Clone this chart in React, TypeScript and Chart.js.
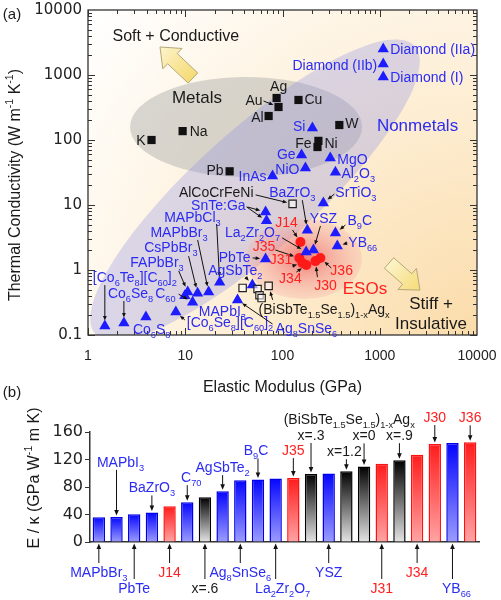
import React, { useEffect, useRef } from 'react';
import { Chart, registerables } from 'chart.js';

Chart.register(...registerables);

const SANS = '"Liberation Sans", Arial, Helvetica, sans-serif';
const WIDE = '"DejaVu Sans", sans-serif';

// ---------------- panel (a): E (GPa) vs thermal conductivity (W m-1 K-1) ----------------
const metalNames = ['K', 'Na', 'Pb', 'Al', 'Au', 'Ag', 'Cu', 'W', 'Fe', 'Ni'];
const metalModulus = [4.5, 9.4, 28.6, 72, 91, 87, 146, 384, 229, 234];
const metalConductivity = [100, 137, 33, 234, 322, 443, 413, 170, 78, 97];

const alloyNames = ['AlCoCrFeNi', 'x=.6', 'x=.3', 'x=1.2', 'x=0', 'x=.9'];
const alloyModulus = [127, 38.9, 55.4, 58, 61, 72];
const alloyConductivity = [10.4, 0.53, 0.51, 0.41, 0.37, 0.57];

const nonmetalNames = [
  '[Co_6Te_8][C_{60}]_2', 'Co_6Se_8', 'Co_6S_8', '[Co_6Se_8][C_{60}]_2', 'C_{60}', 'FAPbBr_3',
  'MAPbI_3', 'CsPbBr_3', 'MAPbBr_3', 'MAPbCl_3', 'Ag_8SnSe_6', 'AgSbTe_2', 'PbTe', 'SnTe:Ga',
  'SnTe:Ga', 'InAs', 'NiO', 'Ge', 'Si', 'MgO', 'Al_2O_3', 'SrTiO_3', 'BaZrO_3', 'La_2Zr_2O_7', 'YSZ',
  'B_9C', 'YB_{66}', 'Diamond (IIa)', 'Diamond (IIb)', 'Diamond (I)',
];
const nonmetalModulus = [
  1.49, 2.34, 3.94, 8.0, 11.9, 10.6, 9.9, 13.4, 17.4, 22.6, 34.5, 49, 67, 67, 68.5, 79, 172,
  157, 203, 310, 350, 263, 180, 175, 208, 350, 366, 1086, 1086, 1086,
];
const nonmetalConductivity = [
  0.137, 0.153, 0.189, 0.226, 0.32, 0.46, 0.4, 0.44, 0.46, 0.65, 0.345, 0.59, 1.48, 7.8, 5.7,
  28, 37, 59, 153, 53, 32, 10.7, 4.1, 1.9, 2.03, 3.7, 2.34, 2510, 1478, 930,
];

const esoNames = ['J14', 'J35', 'J31', 'J34', 'J30', 'J36'];
const esoModulus = [153, 149, 160, 176, 218, 245];
const esoConductivity = [2.7, 1.53, 1.28, 1.19, 1.37, 1.53];

const xTickValues = [1, 10, 100, 1000, 10000];
const yTickValues = [0.1, 1, 10, 100, 1000, 10000];

// ---------------- panel (b): E / kappa ----------------
const barNames = [
  'MAPbBr_3', 'MAPbI_3', 'PbTe', 'BaZrO_3', 'J14', 'C_{70}', 'x=.6', 'AgSbTe_2', 'Ag_8SnSe_6',
  'B_9C', 'La_2Zr_2O_7', 'J35', 'x=.3', 'YSZ', 'x=1.2', 'x=0', 'J31', 'x=.9', 'J34', 'J30',
  'YB_{66}', 'J36',
];
const barValues = [
  36, 36.5, 40.5, 43, 52, 58, 65, 74, 90, 91, 92.5, 93, 99, 99.5, 103, 110, 114, 119, 127,
  142.5, 144, 145,
];
const barGroups = [
  'n', 'n', 'n', 'n', 'e', 'n', 'a', 'n', 'n', 'n', 'n', 'e', 'a', 'n', 'a', 'a', 'e', 'a', 'e',
  'e', 'n', 'e',
];

// ---------------- styling / annotation layout ----------------
const BLUE_TXT = '#2b2bf2';
const RED_TXT = '#ff2020';
const BLACK_TXT = '#1a1a1a';
const ALLOY_TITLE = '(BiSbTe_{1.5}Se_{1.5})_{1-x}Ag_x';

const setColor: Record<string, string> = { m: BLACK_TXT, a: BLACK_TXT, n: BLUE_TXT, e: RED_TXT };
const setIndex: Record<string, number> = { m: 0, a: 1, n: 2, e: 3 };
const setNames: Record<string, string[]> = { m: metalNames, a: alloyNames, n: nonmetalNames, e: esoNames };

const labelsA: any[] = [
  { s: 'm', i: 0, dx: -6, dy: 0, al: 'r' },
  { s: 'm', i: 1, dx: 7, dy: 0, al: 'l' },
  { s: 'm', i: 2, dx: -6, dy: -1, al: 'r' },
  { s: 'm', i: 3, dx: -5, dy: 1, al: 'r' },
  { s: 'm', i: 4, dx: -16, dy: -7, al: 'r', ax: -15, ay: -6 },
  { s: 'm', i: 5, dx: 2, dy: -12, al: 'c' },
  { s: 'm', i: 6, dx: 6, dy: -1, al: 'l' },
  { s: 'm', i: 7, dx: 6, dy: -2, al: 'l' },
  { s: 'm', i: 8, dx: -6, dy: -4, al: 'r' },
  { s: 'm', i: 9, dx: 6, dy: 2, al: 'l' },
  { s: 'a', i: 0, dx: -39, dy: -12, al: 'r', ax: -37, ay: -9 },
  { s: 'a', i: 4, dx: -3, dy: 11, al: 'l', t: ALLOY_TITLE },
  { s: 'a', i: 5, dx: 0, dy: 0, al: 'l', ax: 4, ay: 14, hide: true },
  { s: 'n', i: 0, dx: -12, dy: -49, al: 'l', ax: 0, ay: -41 },
  { s: 'n', i: 1, dx: -16, dy: -30, al: 'l', ax: 0, ay: -22 },
  { s: 'n', i: 2, dx: -13, dy: 12, al: 'l' },
  { s: 'n', i: 3, dx: 11, dy: 10, al: 'l', ax: 9, ay: 8 },
  { s: 'n', i: 4, dx: -17, dy: -9, al: 'r', ax: -14, ay: -8 },
  { s: 'n', i: 5, dx: -4, dy: -30, al: 'r', ax: -9, ay: -21 },
  { s: 'n', i: 6, dx: 14, dy: 15, al: 'l' },
  { s: 'n', i: 7, dx: 0, dy: -46, al: 'r', ax: -9, ay: -37 },
  { s: 'n', i: 8, dx: -1, dy: -60, al: 'r', ax: -11, ay: -52 },
  { s: 'n', i: 9, dx: 1, dy: -65, al: 'r', ax: -3, ay: -58 },
  { s: 'n', i: 10, dx: 38, dy: 28, al: 'l', ax: 35, ay: 24 },
  { s: 'n', i: 11, dx: 10, dy: -15, al: 'r', ax: -7, ay: -8 },
  { s: 'n', i: 12, dx: -15, dy: -2, al: 'r', ax: -13, ay: -1 },
  { s: 'n', i: 13, dx: -20, dy: -7, al: 'r', ax: -18, ay: -5 },
  { s: 'n', i: 14, dx: 0, dy: 0, al: 'r', ax: -20, ay: -14, hide: true },
  { s: 'n', i: 15, dx: -6, dy: 0, al: 'r' },
  { s: 'n', i: 16, dx: -6, dy: 1, al: 'r' },
  { s: 'n', i: 17, dx: -6, dy: -1, al: 'r' },
  { s: 'n', i: 18, dx: -7, dy: -2, al: 'r' },
  { s: 'n', i: 19, dx: 7, dy: 1, al: 'l' },
  { s: 'n', i: 20, dx: 6, dy: 1, al: 'l' },
  { s: 'n', i: 21, dx: 12, dy: -11, al: 'l', ax: 11, ay: -9 },
  { s: 'n', i: 22, dx: -15, dy: -38, al: 'c', ax: -5, ay: -30 },
  { s: 'n', i: 23, dx: -26, dy: -20, al: 'r', ax: -24, ay: -14 },
  { s: 'n', i: 24, dx: 10, dy: -32, al: 'c', ax: 7, ay: -24 },
  { s: 'n', i: 25, dx: 12, dy: -13, al: 'l', ax: 10, ay: -8 },
  { s: 'n', i: 26, dx: 11, dy: -4, al: 'l', ax: 10, ay: -3 },
  { s: 'n', i: 27, dx: 7, dy: 0, al: 'l' },
  { s: 'n', i: 28, dx: -6, dy: 1, al: 'r' },
  { s: 'n', i: 29, dx: 7, dy: 0, al: 'l' },
  { s: 'e', i: 0, dx: -14, dy: -20, al: 'c', ax: -8, ay: -12 },
  { s: 'e', i: 1, dx: -24, dy: -12, al: 'r', ax: -24, ay: -8 },
  { s: 'e', i: 2, dx: -10, dy: -4, al: 'r', ax: -10, ay: 3 },
  { s: 'e', i: 3, dx: -16, dy: 13, al: 'c', ax: -10, ay: 7 },
  { s: 'e', i: 4, dx: 10, dy: 24, al: 'c', ax: 2, ay: 16 },
  { s: 'e', i: 5, dx: 10, dy: 12, al: 'l', ax: 11, ay: 10 },
];

// region annotations in data coordinates (modulus, conductivity)
const regionTexts = [
  { t: 'Soft + Conductive', E: 8.0, k: 4125, c: BLACK_TXT, size: 16 },
  { t: 'Metals', E: 13.2, k: 458, c: BLACK_TXT, size: 17 },
  { t: 'Nonmetals', E: 2445, k: 170, c: BLUE_TXT, size: 17 },
  { t: 'ESOs', E: 705, k: 0.53, c: RED_TXT, size: 17 },
  { t: 'Stiff +', E: 3365, k: 0.31, c: BLACK_TXT, size: 17 },
  { t: 'Insulative', E: 3365, k: 0.153, c: BLACK_TXT, size: 17 },
];

const barLabelLayout = [
  { p: 'b', r: 0 }, { p: 't', g: 55, dx: 4 }, { p: 'b', r: 1 }, { p: 't', g: 25 },
  { p: 'b', r: 0 }, { p: 't', g: 25, dx: 4 }, { p: 'b', r: 1 }, { p: 't', g: 24 },
  { p: 'b', r: 0 }, { p: 't', g: 29, dx: -2 }, { p: 'b', r: 1, dx: 7 }, { p: 't', g: 28 },
  { p: 't', g: 39 }, { p: 'b', r: 0 }, { p: 't', g: 20, dx: -2 }, { p: 't', g: 31 },
  { p: 'b', r: 1 }, { p: 't', g: 25 }, { p: 'b', r: 0 }, { p: 't', g: 27 },
  { p: 'b', r: 1, dx: 4 }, { p: 't', g: 25 },
];

const palette: Record<string, { top: string; bottom: string; edge: string; text: string }> = {
  n: { top: '#0505ff', bottom: '#9c9cff', edge: '#0000e8', text: BLUE_TXT },
  e: { top: '#ff1c1c', bottom: '#ffa4a4', edge: '#ff1010', text: RED_TXT },
  a: { top: '#000000', bottom: '#e4e4e4', edge: '#000000', text: BLACK_TXT },
};

// ---------------- drawing helpers ----------------
function parseRich(s: string) {
  const segs: { t: string; m: number }[] = [];
  let buf = '';
  let i = 0;
  while (i < s.length) {
    const c = s[i];
    if ((c === '_' || c === '^') && i + 1 < s.length) {
      if (buf) { segs.push({ t: buf, m: 0 }); buf = ''; }
      let t = '';
      if (s[i + 1] === '{') {
        const j = s.indexOf('}', i + 2);
        t = s.slice(i + 2, j);
        i = j + 1;
      } else {
        t = s[i + 1];
        i += 2;
      }
      segs.push({ t, m: c === '_' ? 1 : 2 });
    } else {
      buf += c;
      i++;
    }
  }
  if (buf) segs.push({ t: buf, m: 0 });
  return segs;
}

function drawRich(ctx: CanvasRenderingContext2D, s: string, x: number, y: number, size: number, color: string, align: string, family = SANS) {
  const segs = parseRich(s);
  const small = size * 0.66;
  let w = 0;
  for (const sg of segs) {
    ctx.font = `${sg.m ? small : size}px ${family}`;
    w += ctx.measureText(sg.t).width;
  }
  let cx = align === 'c' ? x - w / 2 : align === 'r' ? x - w : x;
  const base = y + size * 0.36;
  ctx.fillStyle = color;
  ctx.textAlign = 'left';
  ctx.textBaseline = 'alphabetic';
  for (const sg of segs) {
    ctx.font = `${sg.m ? small : size}px ${family}`;
    const yy = sg.m === 1 ? base + size * 0.27 : sg.m === 2 ? base - size * 0.42 : base;
    ctx.fillText(sg.t, cx, yy);
    cx += ctx.measureText(sg.t).width;
  }
  return w;
}

function arrowLine(ctx: CanvasRenderingContext2D, x1: number, y1: number, x2: number, y2: number, head = 5.5) {
  const a = Math.atan2(y2 - y1, x2 - x1);
  const c = Math.cos(a), s = Math.sin(a);
  ctx.strokeStyle = '#111';
  ctx.fillStyle = '#111';
  ctx.lineWidth = 1;
  ctx.beginPath();
  ctx.moveTo(x1, y1);
  ctx.lineTo(x2 - c * head * 0.8, y2 - s * head * 0.8);
  ctx.stroke();
  ctx.beginPath();
  ctx.moveTo(x2, y2);
  ctx.lineTo(x2 - head * c + head * 0.42 * s, y2 - head * s - head * 0.42 * c);
  ctx.lineTo(x2 - head * c - head * 0.42 * s, y2 - head * s + head * 0.42 * c);
  ctx.closePath();
  ctx.fill();
}

function blockArrow(ctx: CanvasRenderingContext2D, tx: number, ty: number, hx: number, hy: number) {
  const bw = 7, hw = 14, hl = 17;
  const dx = hx - tx, dy = hy - ty;
  const L = Math.hypot(dx, dy);
  const ux = dx / L, uy = dy / L, nx = -uy, ny = ux;
  const bx = hx - ux * hl, by = hy - uy * hl;
  ctx.beginPath();
  ctx.moveTo(tx + nx * bw, ty + ny * bw);
  ctx.lineTo(bx + nx * bw, by + ny * bw);
  ctx.lineTo(bx + nx * hw, by + ny * hw);
  ctx.lineTo(hx, hy);
  ctx.lineTo(bx - nx * hw, by - ny * hw);
  ctx.lineTo(bx - nx * bw, by - ny * bw);
  ctx.lineTo(tx - nx * bw, ty - ny * bw);
  ctx.closePath();
  const g = ctx.createLinearGradient(Math.min(tx, hx) - 10, Math.min(ty, hy) - 10, Math.max(tx, hx) + 10, Math.max(ty, hy) + 10);
  g.addColorStop(0, '#fffbe6');
  g.addColorStop(1, '#f3d35a');
  ctx.fillStyle = g;
  ctx.fill();
  ctx.strokeStyle = '#b5a77c';
  ctx.lineWidth = 1;
  ctx.stroke();
}

// ---------------- panel (a) plugin ----------------
const panelAPlugin = {
  id: 'panelA',
  beforeDraw(chart: any) {
    const { ctx, chartArea: ca, scales } = chart;
    const X = (v: number) => scales.x.getPixelForValue(v);
    const Y = (v: number) => scales.y.getPixelForValue(v);
    ctx.save();
    ctx.beginPath();
    ctx.rect(ca.left, ca.top, ca.width, ca.height);
    ctx.clip();
    const bg = ctx.createRadialGradient(ca.right, ca.bottom, 0, ca.right, ca.bottom, 500);
    bg.addColorStop(0, '#fbdcaa');
    bg.addColorStop(0.45, '#fdedd2');
    bg.addColorStop(1, '#ffffff');
    ctx.fillStyle = bg;
    ctx.fillRect(ca.left, ca.top, ca.width, ca.height);

    // metals zone
    ctx.fillStyle = 'rgba(165,165,165,0.42)';
    ctx.beginPath();
    ctx.ellipse(X(42.2), Y(158.5), 116, 50, 0, 0, Math.PI * 2);
    ctx.fill();
    // nonmetals zone
    ctx.fillStyle = 'rgba(145,145,228,0.32)';
    ctx.beginPath();
    ctx.ellipse(X(52.2), Y(17), 215, 60, (-42 * Math.PI) / 180, 0, Math.PI * 2);
    ctx.fill();
    // ESO zone
    ctx.save();
    ctx.translate(X(166), Y(1.476));
    ctx.scale(1, 40 / 58);
    const rg = ctx.createRadialGradient(0, 0, 0, 0, 0, 58);
    rg.addColorStop(0, 'rgba(236,85,85,0.75)');
    rg.addColorStop(0.55, 'rgba(240,135,135,0.5)');
    rg.addColorStop(1, 'rgba(245,180,170,0.35)');
    ctx.fillStyle = rg;
    ctx.beginPath();
    ctx.arc(0, 0, 58, 0, Math.PI * 2);
    ctx.fill();
    ctx.restore();

    blockArrow(ctx, X(12.0), Y(899), X(5.5), Y(2697));
    blockArrow(ctx, X(1245), Y(1.28), X(2594), Y(0.49));
    ctx.restore();
  },
  afterDraw(chart: any) {
    const { ctx, chartArea: ca, scales } = chart;
    const X = (v: number) => scales.x.getPixelForValue(v);
    const Y = (v: number) => scales.y.getPixelForValue(v);
    ctx.save();
    // frame + inward ticks on all sides
    ctx.strokeStyle = '#333';
    ctx.lineWidth = 1;
    const seg = (x1: number, y1: number, x2: number, y2: number) => {
      ctx.beginPath(); ctx.moveTo(x1, y1); ctx.lineTo(x2, y2); ctx.stroke();
    };
    for (let d = 0; d < 4; d++) {
      for (let k = 1; k <= 9; k++) {
        const px = Math.round(X(k * Math.pow(10, d))) + 0.5;
        const L = k === 1 ? 7 : 4;
        seg(px, ca.bottom, px, ca.bottom - L);
        seg(px, ca.top, px, ca.top + L);
      }
    }
    for (let d = -1; d < 4; d++) {
      for (let k = 1; k <= 9; k++) {
        const py = Math.round(Y(k * Math.pow(10, d))) + 0.5;
        const L = k === 1 ? 7 : 4;
        seg(ca.left, py, ca.left + L, py);
        seg(ca.right, py, ca.right - L, py);
      }
    }
    ctx.lineWidth = 1.3;
    ctx.strokeRect(ca.left, ca.top, ca.width, ca.height);

    // point labels + leader arrows
    for (const lb of labelsA) {
      const el = chart.getDatasetMeta(setIndex[lb.s]).data[lb.i];
      if (!el) continue;
      const px = el.x, py = el.y;
      if (!lb.hide) {
        const txt = lb.t || setNames[lb.s][lb.i];
        if (txt) drawRich(ctx, txt, px + lb.dx, py + lb.dy, 14, setColor[lb.s], lb.al);
      }
      if (lb.ax !== undefined) {
        const sx = px + lb.ax, sy = py + (lb.ay || 0);
        const L = Math.hypot(sx - px, sy - py);
        const gap = 5.5;
        arrowLine(ctx, sx, sy, px + ((sx - px) / L) * gap, py + ((sy - py) / L) * gap, 4.5);
      }
    }
    for (const rt of regionTexts) {
      drawRich(ctx, rt.t, X(rt.E), Y(rt.k), rt.size, rt.c, 'c');
    }
    // titles
    drawRich(ctx, 'Elastic Modulus (GPa)', (ca.left + ca.right) / 2, 386, 16, BLACK_TXT, 'c');
    ctx.save();
    ctx.translate(14, 185);
    ctx.rotate(-Math.PI / 2);
    drawRich(ctx, 'Thermal Conductivity (W m^{-1} K^{-1})', 0, 0, 16, BLACK_TXT, 'c');
    ctx.restore();
    drawRich(ctx, '(a)', 12, 14, 15, BLACK_TXT, 'c');
    ctx.restore();
  },
};

// ---------------- panel (b) plugin ----------------
const panelBPlugin = {
  id: 'panelB',
  afterDraw(chart: any) {
    const { ctx, chartArea: ca, scales } = chart;
    const meta = chart.getDatasetMeta(0);
    const base = scales.y.getPixelForValue(0);
    ctx.save();
    barLabelLayout.forEach((cfg: any, i: number) => {
      const el = meta.data[i];
      if (!el) return;
      const x = el.x, topY = el.y;
      const col = palette[barGroups[i]].text;
      if (cfg.p === 't') {
        const ty = topY - cfg.g;
        drawRich(ctx, barNames[i], x + (cfg.dx || 0), ty, 14, col, 'c');
        arrowLine(ctx, x, ty + 8, x, topY - 1.5);
      } else {
        const ty = base + (cfg.r ? 46 : 30);
        drawRich(ctx, barNames[i], x + (cfg.dx || 0), ty, 14, col, 'c');
        arrowLine(ctx, x, ty - 9, x, base + 1.5);
      }
    });
    const hx = (meta.data[12].x + meta.data[17].x) / 2 - 6;
    drawRich(ctx, ALLOY_TITLE, hx, ca.top - 13, 14, BLACK_TXT, 'c');
    ctx.save();
    ctx.translate(33, ca.top + 46);
    ctx.rotate(-Math.PI / 2);
    drawRich(ctx, 'E / κ (GPa W^{-1} m K)', 0, 0, 16, BLACK_TXT, 'c');
    ctx.restore();
    drawRich(ctx, '(b)', 12, 22, 15, BLACK_TXT, 'c');
    ctx.restore();
  },
};

function pts(xs: number[], ys: number[]) {
  return xs.map((x, i) => ({ x, y: ys[i] }));
}

function barFill(c: any) {
  const chart = c.chart;
  const idx = c.dataIndex;
  const pal = palette[barGroups[idx] || 'n'];
  if (!chart.chartArea || idx == null) return pal.top;
  const ys = chart.scales.y;
  const top = ys.getPixelForValue(barValues[idx]);
  const bottom = ys.getPixelForValue(0);
  const g = chart.ctx.createLinearGradient(0, top, 0, bottom);
  g.addColorStop(0, pal.top);
  g.addColorStop(1, pal.bottom);
  return g;
}

export default function App() {
  const aRef = useRef<HTMLCanvasElement>(null);
  const bRef = useRef<HTMLCanvasElement>(null);

  useEffect(() => {
    const chartA = new Chart(aRef.current as HTMLCanvasElement, {
      type: 'scatter',
      data: {
        datasets: [
          { data: pts(metalModulus, metalConductivity), pointStyle: 'rect', pointRadius: 5.8, backgroundColor: '#111', borderColor: '#111', borderWidth: 0 },
          { data: pts(alloyModulus, alloyConductivity), pointStyle: 'rect', pointRadius: 5.2, backgroundColor: 'rgba(255,255,255,0.55)', borderColor: '#222', borderWidth: 1.2 },
          { data: pts(nonmetalModulus, nonmetalConductivity), pointStyle: 'triangle', pointRadius: 6.5, backgroundColor: '#1c1cff', borderColor: '#1c1cff', borderWidth: 0 },
          { data: pts(esoModulus, esoConductivity), pointStyle: 'circle', pointRadius: 5, backgroundColor: '#ff1a1a', borderColor: '#ff1a1a', borderWidth: 0 },
        ],
      } as any,
      options: {
        animation: false,
        responsive: false,
        events: [],
        layout: { padding: { top: 10, right: 24, left: 0, bottom: 0 } },
        plugins: { legend: { display: false }, tooltip: { enabled: false } },
        scales: {
          x: {
            type: 'logarithmic',
            position: 'bottom',
            min: 1,
            max: 10000,
            afterFit: (s: any) => { s.height = 65; s.paddingLeft = 0; s.paddingRight = 0; },
            afterBuildTicks: (s: any) => { s.ticks = xTickValues.map((v) => ({ value: v })); },
            ticks: { callback: (v: any) => String(v), font: { family: SANS, size: 14 }, color: '#222', padding: 13, autoSkip: false, maxRotation: 0 },
            grid: { display: false, drawTicks: false },
            border: { display: false },
          },
          y: {
            type: 'logarithmic',
            min: 0.1,
            max: 10000,
            afterFit: (s: any) => { s.width = 88; s.paddingTop = 0; s.paddingBottom = 0; },
            afterBuildTicks: (s: any) => { s.ticks = yTickValues.map((v) => ({ value: v })); },
            ticks: { callback: (v: any) => String(v), font: { family: WIDE, size: 15 }, color: '#222', padding: 6, autoSkip: false },
            grid: { display: false, drawTicks: false },
            border: { display: false },
          },
        },
      } as any,
      plugins: [panelAPlugin],
    });

    const chartB = new Chart(bRef.current as HTMLCanvasElement, {
      type: 'bar',
      data: {
        labels: barNames,
        datasets: [
          {
            data: barValues,
            backgroundColor: barFill,
            borderColor: barGroups.map((g) => palette[g].edge),
            borderWidth: 1.5,
            barPercentage: 0.7,
            categoryPercentage: 1,
          },
        ],
      } as any,
      options: {
        animation: false,
        responsive: false,
        events: [],
        layout: { padding: { top: 62, right: 22, left: 0, bottom: 0 } },
        plugins: { legend: { display: false }, tooltip: { enabled: false } },
        scales: {
          x: {
            afterFit: (s: any) => { s.height = 58; s.paddingLeft = 0; s.paddingRight = 0; },
            ticks: { display: false },
            grid: { display: false },
            border: { display: true, color: '#333', width: 1.5 },
          },
          y: {
            min: 0,
            max: 160,
            afterFit: (s: any) => { s.width = 90; s.paddingTop = 0; s.paddingBottom = 0; },
            ticks: { stepSize: 40, font: { family: WIDE, size: 16 }, color: '#222', padding: 2 },
            grid: { drawOnChartArea: false, drawTicks: true, tickLength: 5, color: '#333' },
            border: { display: true, color: '#333', width: 1.5 },
          },
        },
      } as any,
      plugins: [panelBPlugin],
    });

    return () => {
      chartA.destroy();
      chartB.destroy();
    };
  }, []);

  return (
    <div style={{ position: 'fixed', left: 0, top: 0, width: 501, height: 600, background: '#fff' }}>
      <canvas ref={aRef} width={501} height={400} style={{ position: 'absolute', left: 0, top: 0, width: 501, height: 400 }} />
      <canvas ref={bRef} width={501} height={230} style={{ position: 'absolute', left: 0, top: 370, width: 501, height: 230 }} />
    </div>
  );
}
